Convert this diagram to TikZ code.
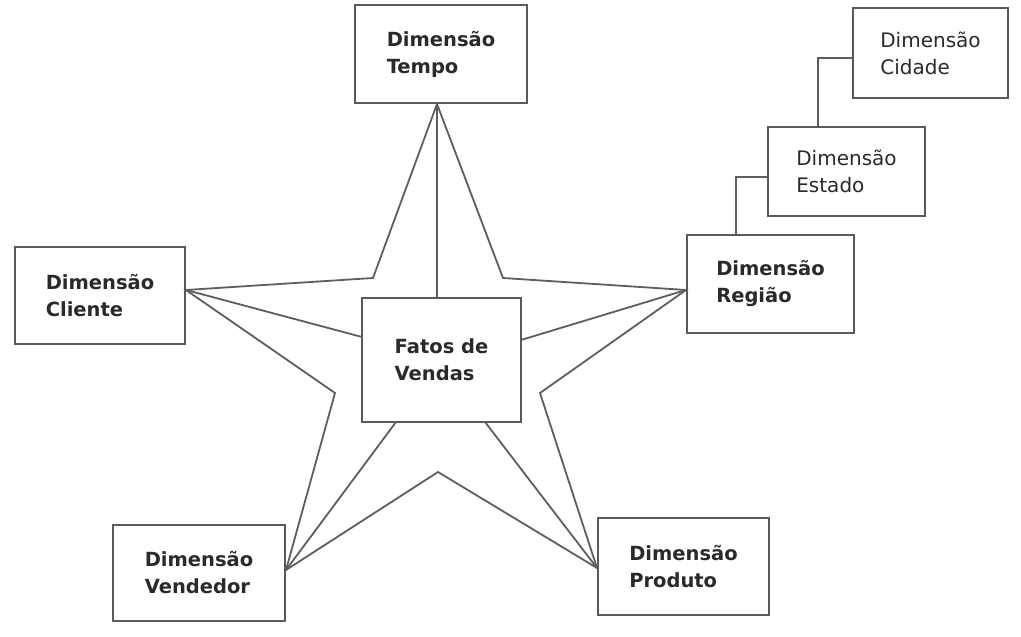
\documentclass[tikz,border=0pt]{standalone}
\usepackage{fontspec}
\setmainfont{DejaVu Sans}
\begin{document}
\begin{tikzpicture}[x=1pt,y=-1pt,
  dimbox/.style={draw=boxgray,line width=2.4pt,inner sep=0pt,align=left,text=txtgray},
  boldtxt/.style={font=\fontsize{19.5}{27}\selectfont\bfseries},
  normtxt/.style={font=\fontsize{20}{27}\selectfont},
  link/.style={draw=linegray,line width=1.8pt,line join=miter}]
\definecolor{boxgray}{HTML}{5A5A5A}
\definecolor{linegray}{HTML}{5E5E5E}
\definecolor{txtgray}{HTML}{2A2A2A}
\useasboundingbox[fill=white] (0,0) rectangle (1021,637);
% boxes
\node[dimbox,boldtxt,minimum width=172pt,minimum height=98pt] (tempo) at (441,54) {Dimensão\\Tempo};
\node[dimbox,normtxt,minimum width=155pt,minimum height=90pt] (cidade) at (930.5,53) {Dimensão\\Cidade};
\node[dimbox,normtxt,minimum width=157pt,minimum height=89pt] (estado) at (846.5,171.5) {Dimensão\\Estado};
\node[dimbox,boldtxt,minimum width=167pt,minimum height=98pt] (regiao) at (770.5,284) {Dimensão\\Região};
\node[dimbox,boldtxt,minimum width=170pt,minimum height=97pt] (cliente) at (100,295.5) {Dimensão\\Cliente};
\node[dimbox,boldtxt,minimum width=159pt,minimum height=124pt] (fatos) at (441.5,360) {Fatos de\\Vendas};
\node[dimbox,boldtxt,minimum width=172pt,minimum height=96pt] (vendedor) at (199,573) {Dimensão\\Vendedor};
\node[dimbox,boldtxt,minimum width=171pt,minimum height=97pt] (produto) at (683.5,566.5) {Dimensão\\Produto};
% star contact points
\coordinate (pT) at (437,104);
\coordinate (pR) at (686,290);
\coordinate (pP) at (597,568);
\coordinate (pV) at (286,570);
\coordinate (pC) at (186,290);
% inner star points
\coordinate (iTR) at (503,278);
\coordinate (iRP) at (540,393);
\coordinate (iPV) at (438,472);
\coordinate (iVC) at (335,393);
\coordinate (iCT) at (373,278);
% fact spokes
\coordinate (fT) at (437,298);
\coordinate (fC) at (362,337);
\coordinate (fR) at (521,340);
\coordinate (fV) at (396,422);
\coordinate (fP) at (485,422);
% star
\draw[link] (pT) -- (iTR) -- (pR) -- (iRP) -- (pP) -- (iPV) -- (pV) -- (iVC) -- (pC) -- (iCT) -- cycle;
\draw[link] (fT) -- (pT);
\draw[link] (fC) -- (pC);
\draw[link] (fR) -- (pR);
\draw[link] (fV) -- (pV);
\draw[link] (fP) -- (pP);
% hierarchy
\draw[link] (regiao.north -| 736,0) |- (estado.west |- 0,177);
\draw[link] (estado.north -| 818,0) |- (cidade.west |- 0,58);
\end{tikzpicture}
\end{document}
